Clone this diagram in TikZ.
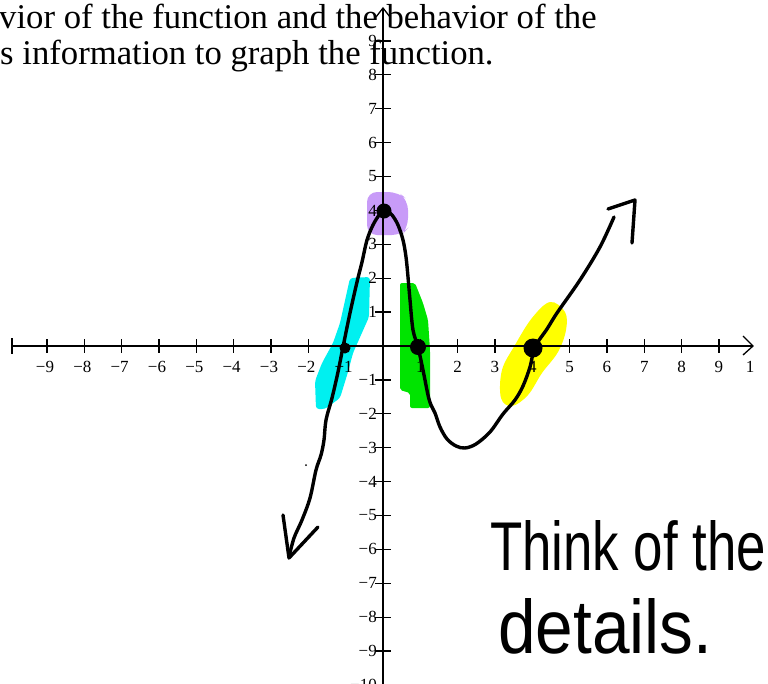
\documentclass[tikz,border=0pt]{standalone}
\usepackage{graphicx}
\usepackage{fontspec}
\setmainfont{Liberation Serif}
\newfontfamily\handfont{Liberation Sans}
\definecolor{hlpurple}{RGB}{200,155,248}
\definecolor{hlcyan}{RGB}{0,240,240}
\definecolor{hlgreen}{RGB}{0,228,0}
\definecolor{hlyellow}{RGB}{255,255,0}
\tikzset{
  axisline/.style={line width=1.3pt, black},
  ticklbl/.style={inner sep=0pt, font=\fontsize{17}{17}\selectfont},
  curveline/.style={line width=3.4pt, black, line cap=round, line join=round},
  toptext/.style={anchor=base west, inner sep=0pt, font=\fontsize{34.7}{40}\selectfont},
  handtext/.style={anchor=base west, inner sep=0pt}
}
\begin{document}
\begin{tikzpicture}[x=1pt,y=-1pt]
\useasboundingbox (0,0) rectangle (768,683);
\clip (0,0) rectangle (768,683);
% highlights
\fill[hlcyan, rounded corners=3pt] (350,278) -- (370,277) -- (369,317) -- (353,353) -- (348,372) -- (340,398) -- (325,409) -- (316,409) -- (315,381) -- (322,363) -- (333,343) -- (340,323) -- cycle;
\fill[hlgreen, rounded corners=2pt] (400,283) -- (415,283) -- (423,303) -- (428,320) -- (430,350) -- (430,408) -- (410,408) -- (410,393) -- (400,390) -- cycle;
\fill[hlyellow] plot[smooth cycle, tension=0.6] coordinates {(550,302) (565,312) (566,330) (558,352) (542,373) (528,395) (512,406) (501,398) (502,370) (515,345) (532,318)};
\fill[hlpurple, rounded corners=10pt] (367,192) -- (398,192) -- (408,200) -- (408,228) -- (402,235) -- (367,235) -- cycle;
% axes
\draw[axisline] (12,346) -- (753,346);
\draw[axisline] (743,336) -- (753,346) -- (743,355);
\draw[axisline] (12,338) -- (12,354);
\draw[axisline] (383,8) -- (383,690);
\draw[axisline] (376,17) -- (383,8) -- (390,17);
\foreach \k in {-9,...,-1,1,2,...,9} \draw[axisline] ({383+37.33*\k},339) -- ++(0,14);
\foreach \k in {-10,...,-1,1,2,...,9} \draw[axisline] (375,{346-33.9*\k}) -- ++(16,0);
% x labels
\foreach \k in {1,...,9} \node[ticklbl] (xn\k) at ({381-37.33*\k},367) {−\k};
\foreach \k in {1,...,9} \node[ticklbl] (xp\k) at ({383+37.33*\k},367) {\k};
\node[ticklbl] (xp10) at (750,367) {1};
% y labels
\foreach \k in {1,...,9} \node[ticklbl, anchor=east] (yp\k) at (377,{346-33.9*\k}) {\k};
\foreach \k in {1,...,10} \node[ticklbl, anchor=east] (yn\k) at (377,{346+33.9*\k}) {−\k};
% top text
\node[toptext] (line1) at (-1,28) {vior of the function and the behavior of the};
\node[toptext] (line2) at (0,64) {s information to graph the function.};
% curve
\draw[curveline] plot[smooth, tension=0.55] coordinates {(289,557) (294,538) (302,520) (310,498) (316,470) (321,455) (324,440) (326,420) (332,398) (338,372) (343,347) (350,313) (357,282) (362,262) (367,240) (373,225) (380,214) (386,211) (392,215) (398,225) (403,240) (406,257) (408,277) (410,300) (413,330) (418,347) (423,370) (428,395) (431,405) (435,413) (440,427) (447,439) (456,446) (465,448) (476,444) (490,432) (503,414) (515,400) (523,386) (530,367) (535,347) (547,329) (557,313) (580,280) (600,247) (614,217)};
\draw[curveline] (283,515) -- (289,558) -- (318,527);
\draw[curveline] (608,209) -- (635,200) -- (632,243);
% dots
\fill (345,348) circle (5.5);
\fill (418,347) circle (8);
\fill (533,348) circle (9.5);
\fill (384,211) circle (7.5);
\fill (306,465) circle (1);
% handwriting
\node[handtext] (think) at (490,570) {\resizebox{276pt}{50pt}{\handfont Think of the}};
\node[handtext] (details) at (498,653) {\resizebox{214pt}{55pt}{\handfont details.}};
\end{tikzpicture}
\end{document}
